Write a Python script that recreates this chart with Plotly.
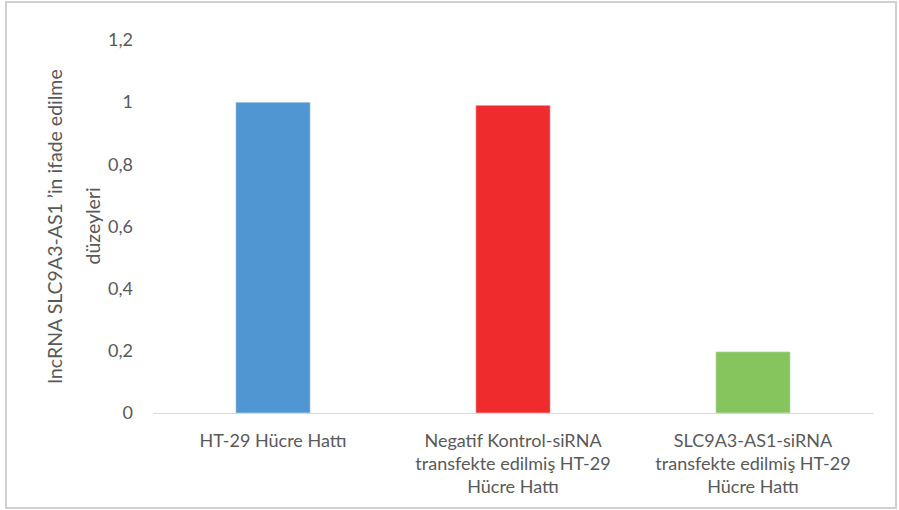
import plotly.graph_objects as go

categories = ["HT-29 Hücre Hattı",
              "Negatif Kontrol-siRNA<br>transfekte edilmiş HT-29<br>Hücre Hattı",
              "SLC9A3-AS1-siRNA<br>transfekte edilmiş HT-29<br>Hücre Hattı"]
values = [1.0, 0.99, 0.197]
colors = ["#5096d2", "#ef2b2d", "#86c45e"]
tick_vals = [0, 0.2, 0.4, 0.6, 0.8, 1, 1.2]
tick_text = ["0", "0,2", "0,4", "0,6", "0,8", "1", "1,2"]
y_title_line1 = "lncRNA SLC9A3-AS1 ’in ifade edilme"
y_title_line2 = "düzeyleri"

W, H = 899, 510
L, R, T, B = 153, 26, 40, 97
pw, ph = W - L - R, H - T - B

fig = go.Figure(go.Bar(x=list(range(len(categories))), y=values, marker_color=colors, width=0.31))

fig.update_layout(
    width=W, height=H,
    margin=dict(l=L, r=R, t=T, b=B),
    paper_bgcolor="white", plot_bgcolor="white",
    font=dict(family="Lato", color="#595959", size=18),
    showlegend=False,
    xaxis=dict(tickvals=list(range(len(categories))), ticktext=categories,
               range=[-0.5, 2.5], showgrid=False, showline=True, linecolor="#d9d9d9",
               linewidth=1, ticks="", tickfont=dict(size=18), zeroline=False,
               ticklabelstandoff=11),
    yaxis=dict(range=[0, 1.2], tickvals=tick_vals, ticktext=tick_text, showgrid=False,
               showline=False, zeroline=False, ticks="", ticklen=0,
               tickfont=dict(size=18), ticklabelstandoff=19,
               title=dict(text=y_title_line1, font=dict(size=19.5), standoff=40)),
    annotations=[dict(text=y_title_line2, textangle=-90, xref="paper", yref="paper",
                      x=(92 - L) / pw, y=0.5, xanchor="center", yanchor="middle",
                      showarrow=False, font=dict(size=19.5, color="#595959"))],
    shapes=[dict(type="rect", xref="paper", yref="paper",
                 x0=(6 - L) / pw, x1=(896 - L) / pw,
                 y0=(H - B - 508) / ph, y1=(H - B - 2) / ph,
                 line=dict(color="#d0d0d0", width=2), fillcolor="rgba(0,0,0,0)", layer="below")],
)

fig.write_html("out.html", config={"displayModeBar": False},
               post_script="document.body.style.margin='0';document.body.style.padding='0';")
